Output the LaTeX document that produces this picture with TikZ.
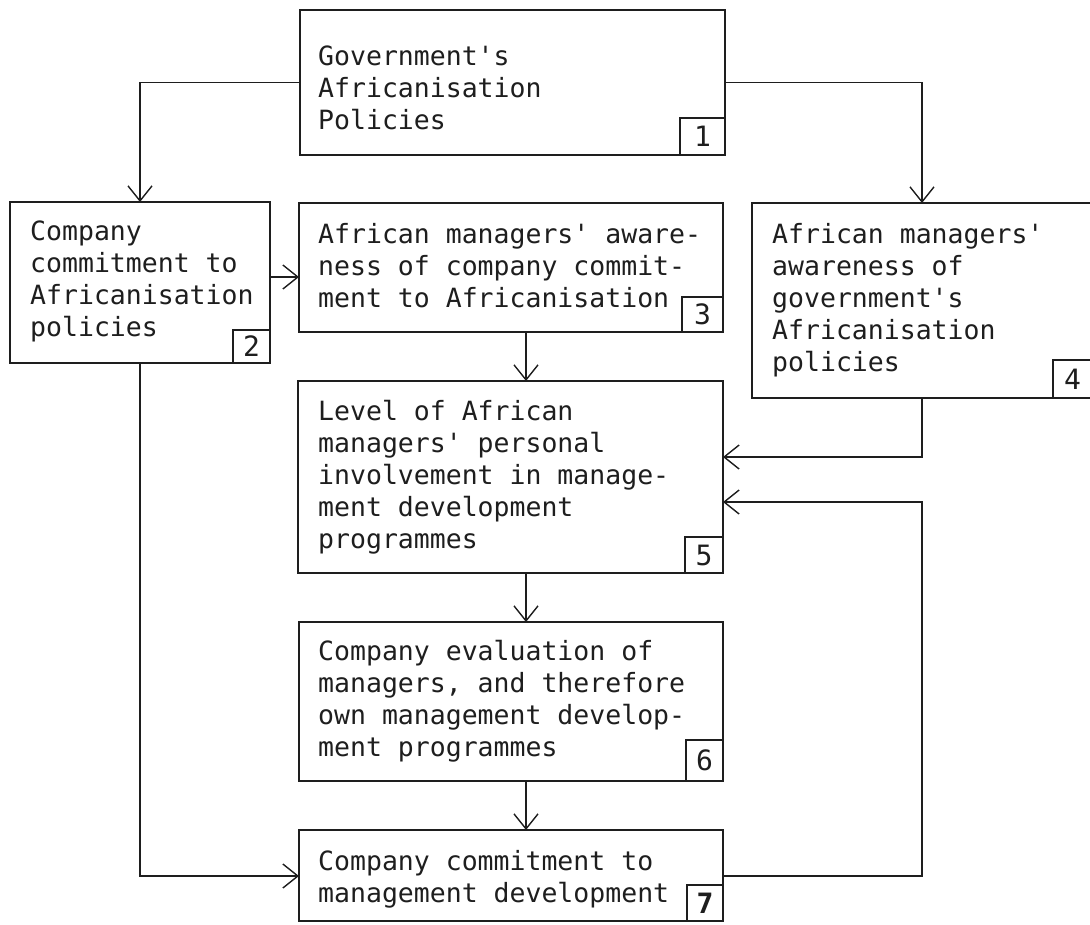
\documentclass[tikz,border=0pt]{standalone}
\usepackage{fontspec}
\newfontfamily\tw[Ligatures=TeXOff]{DejaVu Sans Mono}
\usetikzlibrary{arrows.meta}
\definecolor{ink}{RGB}{30,30,30}
\newcommand\fl{\rule{0pt}{20pt}}
\begin{document}
\begin{tikzpicture}[x=1pt,y=-1pt,
  box/.style={draw=ink, line width=1.8pt, inner sep=0pt, outer sep=0pt, anchor=north west},
  txt/.style={inner sep=0pt, anchor=north west, align=left, font=\tw\fontsize{26.5}{32}\selectfont, text=ink},
  numbox/.style={draw=ink, line width=1.5pt, inner sep=0pt, outer sep=0pt, anchor=south east, font=\tw\fontsize{28}{28}\selectfont, text=ink},
  arr/.style={draw=ink, line width=1.4pt, -{Straight Barb[length=15pt,width=24pt]}}]
\useasboundingbox (0,0) rectangle (1090,924);
\clip (0,0) rectangle (1090,924);
\fill[white] (0,0) rectangle (1090,924);
% boxes
\node[box, minimum width=425pt, minimum height=145pt] (b1) at (300,10) {};
\node[box, minimum width=260pt, minimum height=161pt] (b2) at (10,202) {};
\node[box, minimum width=424pt, minimum height=129pt] (b3) at (299,203) {};
\node[box, minimum width=340pt, minimum height=195pt] (b4) at (752,203) {};
\node[box, minimum width=425pt, minimum height=192pt] (b5) at (298,381) {};
\node[box, minimum width=424pt, minimum height=159pt] (b6) at (299,622) {};
\node[box, minimum width=424pt, minimum height=91pt] (b7) at (299,830) {};
% texts
\node[txt] (t1) at (318,45) {\fl Government's\\Africanisation\\Policies};
\node[txt] (t2) at (30,220) {\fl Company\\commitment to\\Africanisation\\policies};
\node[txt] (t3) at (318,223) {\fl African managers' aware-\\ness of company commit-\\ment to Africanisation};
\node[txt] (t4) at (772,223) {\fl African managers'\\awareness of\\government's\\Africanisation\\policies};
\node[txt] (t5) at (318,400) {\fl Level of African\\managers' personal\\involvement in manage-\\ment development\\programmes};
\node[txt] (t6) at (318,640) {\fl Company evaluation of\\managers, and therefore\\own management develop-\\ment programmes};
\node[txt] (t7) at (318,850) {\fl Company commitment to\\management development};
% number boxes
\node[numbox, minimum width=45pt, minimum height=37pt] (n1) at (b1.south east) {1};
\node[numbox, minimum width=37pt, minimum height=33pt] (n2) at (b2.south east) {2};
\node[numbox, minimum width=41pt, minimum height=35pt] (n3) at (b3.south east) {3};
\node[numbox, minimum width=39pt, minimum height=38pt, anchor=south west] (n4) at (b4.south west -| 1053,0) {4};
\node[numbox, minimum width=38pt, minimum height=36pt] (n5) at (b5.south east) {5};
\node[numbox, minimum width=37pt, minimum height=41pt] (n6) at (b6.south east) {6};
\node[numbox, minimum width=36pt, minimum height=36pt, font=\tw\bfseries\fontsize{28}{28}\selectfont] (n7) at (b7.south east) {7};
% connectors
\coordinate (c23) at (0,277);
\coordinate (mx) at (526,0);
\coordinate (c45) at (0,457);
\coordinate (c75) at (0,502);
\coordinate (c7) at (0,876);
\draw[arr] (b1.west) -| (b2.north);
\draw[arr] (b1.east) -| (b4.north);
\draw[arr] (b2.east |- c23) -- (b3.west |- c23);
\draw[arr] (b3.south -| mx) -- (b5.north -| mx);
\draw[arr] (b5.south -| mx) -- (b6.north -| mx);
\draw[arr] (b6.south -| mx) -- (b7.north -| mx);
\draw[arr] (b4.south) |- (b5.east |- c45);
\draw[arr] (b7.east |- c7) -| (b4.south |- c75) -- (b5.east |- c75);
\draw[arr] (b2.south) |- (b7.west |- c7);
\end{tikzpicture}
\end{document}
